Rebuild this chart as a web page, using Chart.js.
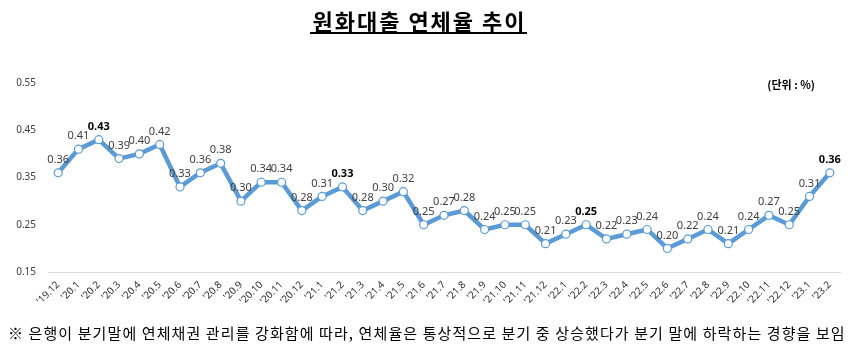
<!DOCTYPE html>
<html>
<head>
<meta charset="utf-8">
<script src="https://cdn.jsdelivr.net/npm/chart.js@4.4.0/dist/chart.umd.min.js"></script>
<style>
  body { margin: 0; background: #fff; }
  #wrap { position: relative; width: 853px; height: 353px; overflow: hidden; }
  #title {
    position: absolute; left: -8px; top: 4px; width: 853px; text-align: center;
    font-family: "Noto Sans CJK KR", sans-serif; font-weight: bold; font-size: 22px;
    letter-spacing: 2px; color: #000;
  }
  #title span { border-bottom: 2px solid #000; line-height: 24px; display: inline-block; padding-left: 2px; }
  #unit {
    position: absolute; right: 38px; top: 76px;
    font-family: "Noto Sans CJK KR", sans-serif; font-weight: bold; font-size: 11px; color: #000;
  }
  #note {
    position: absolute; left: 8px; top: 322px; white-space: nowrap;
    font-family: "Noto Sans CJK KR", sans-serif; font-size: 15px; letter-spacing: 1.1px; color: #000;
  }
  #chartBox { position: absolute; left: 0; top: 0; width: 853px; height: 353px; }
</style>
</head>
<body>
<div id="wrap">
  <div id="chartBox"><canvas id="delinquencyChart" width="853" height="353"></canvas></div>
  <div id="title"><span>원화대출 연체율 추이</span></div>
  <div id="unit">(단위 : %)</div>
  <div id="note">※ 은행이 분기말에 연체채권 관리를 강화함에 따라, 연체율은 통상적으로 분기 중 상승했다가 분기 말에 하락하는 경향을 보임</div>
</div>
<script>
// 월별 라벨
const months = ["'19.12",
    "'20.1", "'20.2", "'20.3", "'20.4", "'20.5", "'20.6", "'20.7", "'20.8", "'20.9", "'20.10", "'20.11", "'20.12",
    "'21.1", "'21.2", "'21.3", "'21.4", "'21.5", "'21.6", "'21.7", "'21.8", "'21.9", "'21.10", "'21.11", "'21.12",
    "'22.1", "'22.2", "'22.3", "'22.4", "'22.5", "'22.6", "'22.7", "'22.8", "'22.9", "'22.10", "'22.11", "'22.12",
    "'23.1", "'23.2"];

// 연체율 (%)
const rates = [0.36,
    0.41, 0.43, 0.39, 0.40, 0.42, 0.33, 0.36, 0.38, 0.30, 0.34, 0.34, 0.28,
    0.31, 0.33, 0.28, 0.30, 0.32, 0.25, 0.27, 0.28, 0.24, 0.25, 0.25, 0.21,
    0.23, 0.25, 0.22, 0.23, 0.24, 0.20, 0.22, 0.24, 0.21, 0.24, 0.27, 0.25,
    0.31, 0.36];

// 굵게 표시하는 라벨
const boldMonths = ["'20.2", "'21.2", "'22.2", "'23.2"];

const yTicks = [0.15, 0.25, 0.35, 0.45, 0.55];

const labelPlugin = {
    id: 'pointLabels',
    afterDatasetsDraw(chart) {
        const ctx = chart.ctx;
        const meta = chart.getDatasetMeta(0);
        ctx.save();
        ctx.textAlign = 'center';
        ctx.textBaseline = 'middle';
        meta.data.forEach((pt, i) => {
            const bold = boldMonths.includes(months[i]);
            ctx.font = (bold ? 'bold ' : '') + '11px "Noto Sans", sans-serif';
            ctx.fillStyle = bold ? '#000' : '#404040';
            ctx.fillText(rates[i].toFixed(2), pt.x, pt.y - 13);
        });
        ctx.restore();
    }
};

const ctx = document.getElementById('delinquencyChart').getContext('2d');
new Chart(ctx, {
    type: 'line',
    data: {
        labels: months,
        datasets: [{
            data: rates,
            borderColor: '#5B9BD5',
            borderWidth: 4.5,
            pointRadius: 4,
            pointBorderWidth: 1.2,
            pointBackgroundColor: '#fff',
            pointBorderColor: '#5B9BD5',
            tension: 0
        }]
    },
    options: {
        responsive: false,
        animation: false,
        layout: { padding: { top: 83, right: 13, bottom: 41, left: 0 } },
        plugins: { legend: { display: false }, tooltip: { enabled: false } },
        scales: {
            x: {
                offset: true,
                grid: { display: false, drawTicks: false },
                border: { color: '#d9d9d9', width: 1 },
                ticks: {
                    autoSkip: false, maxRotation: 45, minRotation: 45, padding: 7,
                    color: '#303030', font: { family: 'Noto Sans', size: 10 }
                },
                afterFit(scale) { scale.height = 40; }
            },
            y: {
                min: 0.15, max: 0.55,
                grid: { display: false, drawTicks: false },
                border: { display: false },
                afterBuildTicks(scale) { scale.ticks = yTicks.map(v => ({ value: v })); },
                ticks: {
                    padding: 12, color: '#404040',
                    font: { family: 'Noto Sans', size: 10 },
                    callback: v => v.toFixed(2)
                },
                afterFit(scale) { scale.width = 48; }
            }
        }
    },
    plugins: [labelPlugin]
});
</script>
</body>
</html>
